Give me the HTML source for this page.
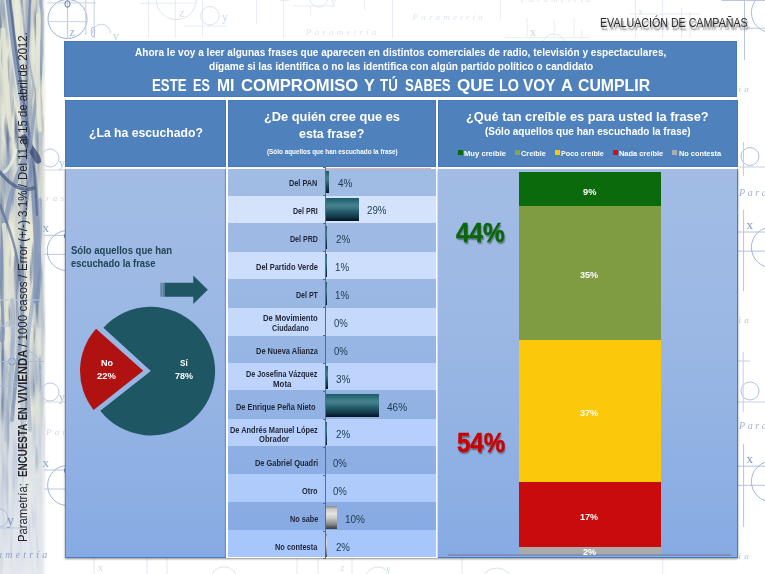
<!DOCTYPE html>
<html lang="es">
<head>
<meta charset="utf-8">
<title>Evaluación de campañas</title>
<style>
html,body{margin:0;padding:0;background:#fff;}
body{font-family:"Liberation Sans",sans-serif;}
#slide{position:relative;width:765px;height:574px;overflow:hidden;background:#fff;}
#slide *{box-sizing:border-box;}
.abs,.t,.vt,.box,.panel,.row,.bar,.seg,.mk{position:absolute;}
.t{white-space:nowrap;line-height:1;transform-origin:0 0;}
.vt{white-space:nowrap;line-height:1;transform-origin:0 0;color:#23242e;opacity:.999;}
.box{background:#4f81bd;border:1px solid #4578bb;}
.panel{border:0 solid #4a7cc3;border-right-width:1px;border-bottom-width:1px;background:linear-gradient(to bottom,#a2bce4 0%,#9ab7e4 45%,#86abe3 100%);box-shadow:0 1px 2px rgba(0,0,0,.45);}
.row{left:228px;width:207.8px;}
.bar{left:325.8px;background:linear-gradient(to bottom,#1f5963 0%,#286a76 12%,#47818e 32%,#3b7683 44%,#27606e 56%,#1c4d5c 68%,#12384a 82%,#081c2a 95%,#06141f 100%);}
.bar.g{background:linear-gradient(to bottom,#8a8a8a 0%,#c9c9c9 14%,#e4e4e4 34%,#cfcfcf 50%,#a9a9a9 66%,#858585 80%,#55565a 92%,#3a3b40 100%);}
.seg{left:519px;width:141.5px;}
.mk{width:5px;height:5px;top:150.4px;}

</style>
</head>
<body>
<div id="slide">
<!-- left painted strip -->
<svg class="abs" style="left:0;top:0" width="50" height="574" viewBox="0 0 50 574">
  <defs>
    <filter id="paint" x="0" y="0" width="100%" height="100%">
      <feTurbulence type="fractalNoise" baseFrequency="0.12 0.009" numOctaves="3" seed="7" result="n"/>
      <feColorMatrix in="n" type="matrix" values="0 0 0 0 0  0 0 0 0 0  0 0 0 0 0  2.6 0 0 0 -1.1"/>
      <feComposite in="SourceGraphic" operator="in"/>
    </filter>
    <filter id="paint2" x="0" y="0" width="100%" height="100%">
      <feTurbulence type="fractalNoise" baseFrequency="0.09 0.014" numOctaves="2" seed="23" result="n"/>
      <feColorMatrix in="n" type="matrix" values="0 0 0 0 0  0 0 0 0 0  0 0 0 0 0  0 3.4 0 0 -1.35"/>
      <feComposite in="SourceGraphic" operator="in"/>
    </filter>
    <filter id="paint3" x="0" y="0" width="100%" height="100%">
      <feTurbulence type="fractalNoise" baseFrequency="0.2 0.02" numOctaves="2" seed="41" result="n"/>
      <feColorMatrix in="n" type="matrix" values="0 0 0 0 0  0 0 0 0 0  0 0 0 0 0  0 0 3.2 0 -1.8"/>
      <feComposite in="SourceGraphic" operator="in"/>
    </filter>
    <filter id="soft" x="-20%" y="-5%" width="140%" height="110%"><feGaussianBlur stdDeviation="0.7"/></filter>
    <linearGradient id="sbase" x1="0" y1="0" x2="0" y2="1">
      <stop offset="0" stop-color="#d8dbcc"/><stop offset="0.45" stop-color="#d0d5cf"/>
      <stop offset="0.72" stop-color="#d0d8df"/><stop offset="1" stop-color="#dee4ea"/>
    </linearGradient>
    <linearGradient id="sfade" x1="0" y1="0" x2="1" y2="0">
      <stop offset="0" stop-color="#fff" stop-opacity="0"/><stop offset="0.9" stop-color="#fff" stop-opacity="0"/>
      <stop offset="0.96" stop-color="#fff" stop-opacity=".45"/><stop offset="1" stop-color="#fff" stop-opacity="1"/>
    </linearGradient>
    <linearGradient id="sbot" x1="0" y1="0" x2="0" y2="1">
      <stop offset="0" stop-color="#dfe5ec" stop-opacity="0"/><stop offset="0.4" stop-color="#dfe5ec" stop-opacity=".6"/><stop offset="1" stop-color="#e6eaf0" stop-opacity=".88"/>
    </linearGradient>
  </defs>
  <rect width="46" height="574" fill="url(#sbase)"/>
  <rect width="46" height="574" fill="#8497b6" filter="url(#paint)"/>
  <rect width="46" height="574" fill="#e9ead9" filter="url(#paint2)"/>
  <rect width="46" height="574" fill="#5b6d92" filter="url(#paint3)"/>
  <g fill="none" stroke-linecap="round" filter="url(#soft)">
    <!-- main trunk -->
    <path d="M8 0C12 40 18 80 24 115S34 170 36 215S38 270 36 300" stroke="#7d90b3" stroke-width="7" opacity=".8"/>
    <path d="M10 0C14 40 20 80 26 115S35 170 37 215" stroke="#55688f" stroke-width="2.2" opacity=".8"/>
    <path d="M5 0C9 40 15 80 21 115" stroke="#eef0e6" stroke-width="1.6" opacity=".8"/>
    <!-- junction blob -->
    <path d="M24 138C28 146 34 152 38 160" stroke="#3f5078" stroke-width="7" opacity=".8"/>
    <!-- upper right branches -->
    <path d="M30 148C34 110 40 80 42 40S40 10 41 0" stroke="#8b9dbd" stroke-width="3.5" opacity=".8"/>
    <path d="M27 120C26 80 28 40 30 0" stroke="#6b7fa6" stroke-width="2.5" opacity=".75"/>
    <path d="M36 95C30 70 24 40 22 0" stroke="#9aaac6" stroke-width="2" opacity=".7"/>
    <!-- left branches going down -->
    <path d="M28 150C18 175 8 195 4 235S6 300 2 340" stroke="#8496b8" stroke-width="5" opacity=".75"/>
    <path d="M32 160C26 200 20 240 22 290S16 360 12 420" stroke="#7488ad" stroke-width="4" opacity=".7"/>
    <path d="M0 172C10 185 22 192 34 188" stroke="#4a5d86" stroke-width="3.5" opacity=".75"/>
    <path d="M0 205C8 225 18 250 20 280" stroke="#5b6e97" stroke-width="2.5" opacity=".7"/>
    <path d="M40 200C42 240 36 280 30 320S28 380 30 430" stroke="#8d9fbf" stroke-width="4" opacity=".6"/>
    <path d="M12 300C16 340 10 380 6 440" stroke="#95a6c4" stroke-width="4" opacity=".55"/>
    <!-- light beige gaps -->
    <path d="M3 30C5 70 6 100 12 135" stroke="#e4e6d3" stroke-width="5" opacity=".85"/>
    <path d="M38 15C39 60 36 95 40 130" stroke="#e6e8d6" stroke-width="4" opacity=".85"/>
    <path d="M4 225C8 265 4 300 8 340" stroke="#e2e5d2" stroke-width="4.5" opacity=".85"/>
    <path d="M28 225C30 250 28 270 27 290" stroke="#e8ead9" stroke-width="3.5" opacity=".8"/>
    <path d="M16 150C12 165 8 170 4 172" stroke="#eceee2" stroke-width="3" opacity=".8"/>
  </g>
  <rect y="400" width="46" height="174" fill="url(#sbot)"/>
  <rect width="46" height="574" fill="url(#sfade)"/>
</svg>
<!-- faint technical-drawing wallpaper -->
<svg class="abs" style="left:0;top:0" width="765" height="574" viewBox="0 0 765 574">
  <g fill="none" stroke="#dfe6f3" stroke-width="1">
    <!-- top-left group -->
    <circle cx="67.5" cy="19" r="19.5" stroke="#9cb0d3"/>
    <path d="M67.5 0V39" stroke="#c3cfe6" stroke-width="1.3"/>
    <path d="M47 2.9H96M47.8 21.6H88.4" stroke="#c9d4e9"/>
    <path d="M85.8 0V35M94.2 0V38" stroke="#c6d1e7"/>
    <ellipse cx="67.5" cy="4" rx="2.6" ry="3.2" stroke="#5f78a6"/>
    <ellipse cx="93" cy="32" rx="1.8" ry="5" stroke="#b4c3de"/>
    <path d="M92.4 33.2a9 9 0 0 1 18 0" stroke="#c9d4e9"/>
    <!-- second group (very faint) -->
    <circle cx="176.3" cy="-0.4" r="20" stroke="#dde4f1"/>
    <path d="M140 3.3H196M148.5 0V38M175.3 0V38M202.5 0V36M184.4 26.1H226.3" stroke="#e6ebf5"/>
    <circle cx="210" cy="15.7" r="9.2" stroke="#dbe3f0"/>
    <!-- top band, centre -->
    <path d="M256.5 0V24M283.5 0V38M280 0.5H289M293 5.9H335M310.6 5V16M364.7 0V10M392.5 0V38M500.6 0V20M527.2 18V38M554.2 20V38M574 18V38M581.8 30V38M505 37.6H590" stroke="#e9eef6"/>
    <circle cx="318.8" cy="-2" r="9" stroke="#e2e8f3"/>
    <circle cx="554" cy="46" r="12" stroke="#e2e8f3"/>
    <path d="M635.6 0V38M662.6 0V38M681.5 8V38M690 12V38M630 14H700" stroke="#e4e9f4"/>
    <!-- top-right -->
    <path d="M744.5 0V60M721.5 0.5H765M744 28.2H765" stroke="#b9c6e0"/>
    <circle cx="771.7" cy="12.5" r="20.3" stroke="#aebddb"/>
    <!-- right margin (pattern repeats every ~234px) -->
    <circle cx="750" cy="156.5" r="9" stroke="#b0c0dd"/>
    <path d="M743.5 142V176M738 167H765" stroke="#c3cfe6"/>
    <path d="M743.6 210V291M738 232H765M738 251.1H765" stroke="#b4c3de"/>
    <circle cx="771.7" cy="247.3" r="20.3" stroke="#a3b5d6"/>
    <circle cx="750" cy="391" r="9" stroke="#b0c0dd"/>
    <path d="M743.2 352V412M738 361H750M738 402H765" stroke="#c3cfe6"/>
    <path d="M743.6 444V527M738 466.2H765M738 485.3H765" stroke="#b4c3de"/>
    <circle cx="771.7" cy="481.5" r="20.3" stroke="#a3b5d6"/>
    <!-- gap between strip and panels -->
    <circle cx="50" cy="158" r="9" stroke="#bccae3"/>
    <path d="M44 170H66" stroke="#cfd9ea"/><path d="M44 235.4H66M44 254.3H66" stroke="#b9c7e2"/><ellipse cx="67.3" cy="236" rx="2.8" ry="3.2" stroke="#5f78a6"/>
    <circle cx="67.2" cy="250.7" r="20" stroke="#a3b5d6"/>
    <circle cx="50" cy="392" r="9" stroke="#bccae3"/>
    <path d="M44 402H66" stroke="#cfd9ea"/><path d="M44 470H66M44 489H66" stroke="#b9c7e2"/><ellipse cx="67.3" cy="470.5" rx="2.8" ry="3.2" stroke="#5f78a6"/>
    <circle cx="67.6" cy="485.5" r="20" stroke="#a3b5d6"/>
    <!-- over the painted strip -->
    <circle cx="-1" cy="518" r="9" stroke="#aebddb"/>
    <path d="M0 528H20M0 300H40M0 326H44" stroke="#b9c7e2"/>
    <circle cx="12" cy="361.5" r="3.5" stroke="#7e93bd"/>
    <circle cx="24" cy="368" r="17" stroke="#a9badb"/>
    <path d="M0 361.5H44M0 386H30" stroke="#a9badb"/>
    <path d="M12 330V400" stroke="#b4c3de"/>
    <!-- bottom band -->
    <path d="M94 558V574M147 558V574M167 558V574M297 558V574M318 558V574M352 558V574M462 558V574M662.7 558V574" stroke="#e3e9f4"/>
    <circle cx="224" cy="581" r="14" stroke="#dbe3f0"/>
    <circle cx="378" cy="580" r="13" stroke="#dbe3f0"/>
    <circle cx="497" cy="584" r="16" stroke="#dbe3f0"/>
  </g>
  <g font-family="Liberation Serif, serif" fill="#9fb1d3" font-size="12" opacity=".99">
    <text x="69.5" y="36" fill="#9db0d2">z</text><text x="113" y="40" fill="#c3cfe6">v</text>
    <text x="179" y="17" fill="#d3dced">z</text><text x="222" y="21" fill="#cfd9ea">y</text>
    <text x="331" y="5" fill="#dbe3f0" font-size="10">y</text>
    <text x="530" y="36" fill="#cbd5ea">x</text><text x="638" y="15" fill="#dbe3f0" font-size="10">x</text>
    <text x="746.5" y="228.5" fill="#7e93bd" font-size="13">x</text><text x="746.5" y="463" fill="#7e93bd" font-size="13">x</text>
    <text x="59" y="167" fill="#aebfdd">y</text><text x="59" y="401" fill="#aebfdd">y</text><text x="42.5" y="232" fill="#8ea2c8" font-size="13">x</text><text x="42.5" y="466.5" fill="#8ea2c8" font-size="13">x</text>
    <text x="98" y="571" fill="#c9d3e8" font-size="10">x</text>
    <text x="7" y="525" fill="#7e93bd" font-size="14">y</text>
    <text x="340" y="571" fill="#d3dced" font-size="10">z</text><text x="386" y="572" fill="#d3dced" font-size="10">y</text>
  </g>
  <g font-family="Liberation Serif, serif" font-style="italic" fill="#c5d0e6" font-size="9" letter-spacing="3.2" opacity=".99">
    <text x="306" y="34.5" fill="#dde4f1">Parametría</text>
    <text x="412.5" y="20" fill="#dde4f1">Parametría</text>
    <text x="520.5" y="2" fill="#dde4f1">Parametría</text>
    <text x="739" y="196" fill="#9fb1d3" font-size="10" letter-spacing="2.6">Para</text><text x="739" y="429" fill="#9fb1d3" font-size="10" letter-spacing="2.6">Para</text>
    <text x="738.5" y="92" fill="#b4c3de">ia</text><text x="738.5" y="323" fill="#b4c3de">ia</text><text x="738.5" y="559" fill="#b4c3de">ia</text>
    <text x="46" y="201" fill="#cfd9ea">ras</text><text x="-3" y="558" fill="#8ea2c8" font-size="10">ametría</text><text x="-2" y="326" fill="#a3b5d6" font-size="9">ame</text><text x="46" y="435" fill="#cfd9ea">Par</text>
  </g>
</svg>

<div class="vtwrap">
<span class="vt" style="top:541.8px;left:27.1px;font-size:12.5px;transform:rotate(-90deg) translateY(-10.00px) scaleX(0.9003)">Parametría;</span>
<span class="vt" style="top:477.3px;left:27.1px;font-size:12.5px;font-weight:700;transform:rotate(-90deg) translateY(-10.00px) scaleX(0.7856)">ENCUESTA</span>
<span class="vt" style="top:420.1px;left:27.1px;font-size:12.5px;font-weight:700;transform:rotate(-90deg) translateY(-10.00px) scaleX(0.7252)">EN</span>
<span class="vt" style="top:402.8px;left:27.1px;font-size:12.5px;font-weight:700;transform:rotate(-90deg) translateY(-10.00px) scaleX(0.9027)">VIVIENDA</span>
<span class="vt" style="top:346.8px;left:27.1px;font-size:12.5px;transform:rotate(-90deg) translateY(-10.00px) scaleX(0.9264)">/ 1000 casos /</span>
<span class="vt" style="top:270.6px;left:27.1px;font-size:12.5px;transform:rotate(-90deg) translateY(-10.00px) scaleX(0.9323)">Error (+/-) 3.1% /</span>
<span class="vt" style="top:180.0px;left:27.1px;font-size:12.5px;transform:rotate(-90deg) translateY(-10.00px) scaleX(0.9102)">Del 11 al 15 de abril de 2012.</span>
</div>
<!-- title + column headers -->
<div class="box" style="left:64px;top:40.5px;width:673px;height:56px"></div>
<div class="box" style="left:65px;top:100px;width:161px;height:66.9px"></div>
<div class="box" style="left:228.2px;top:100px;width:207.5px;height:66.9px"></div>
<div class="box" style="left:438px;top:100px;width:300px;height:66.9px"></div>
<!-- legend markers -->
<i class="mk" style="left:457.9px;background:#0a6a0c"></i>
<i class="mk" style="left:515.2px;background:#84a54b"></i>
<i class="mk" style="left:554.5px;background:#fcc90a"></i>
<i class="mk" style="left:612.5px;background:#d01212"></i>
<i class="mk" style="left:672.4px;background:#adadad"></i>
<!-- left panel: heard it? -->
<div class="panel" style="left:65px;top:169.4px;width:161px;height:388.6px;border-left:1px solid #5a89cb;border-right-color:#86a8df"></div>
<svg class="abs" style="left:65px;top:169px" width="161" height="389" viewBox="65 169 161 389">
  <path d="M160.4 282.7h1.5v14h-1.5zM162.4 282.7h1.6v14h-1.6z" fill="#5b7f95"/>
  <path d="M164.4 282.7H193.3V275.6L207.8 289.7L193.3 304V296.7H164.4Z" fill="#1f5663"/>
  <path d="M150.8 371.1L103.39 327.66A64.3 64.3 0 1 1 100.27 410.86Z" fill="#1f5664"/>
  <path d="M143.2 370.8L96.01 328.76A63.2 63.2 0 0 0 93.53 409.88Z" fill="#b01212"/>
</svg>
<!-- middle panel: whose phrase? -->
<div class="abs" style="left:226.3px;top:168px;width:211.4px;height:390px;background:#fff;box-shadow:0 1px 2px rgba(0,0,0,.45)"></div>
<div class="abs" style="left:228px;top:169px;width:207.6px;height:387.6px;background:linear-gradient(to bottom,#a1bce4 0%,#98b6e4 45%,#85a9e3 100%)"></div>
<div class="row" style="top:196px;height:27.1px;background:rgb(213, 226, 252)"></div>
<div class="row" style="top:251.5px;height:27.5px;background:rgb(205, 221, 252)"></div>
<div class="row" style="top:307.5px;height:28.2px;background:rgb(197, 217, 252)"></div>
<div class="row" style="top:363.3px;height:27.2px;background:rgb(190, 212, 252)"></div>
<div class="row" style="top:419px;height:27.2px;background:rgb(182, 207, 252)"></div>
<div class="row" style="top:474px;height:28.0px;background:rgb(174, 203, 252)"></div>
<div class="row" style="top:530.2px;height:26.4px;background:rgb(166, 198, 252)"></div>
<div class="abs" style="left:325.6px;top:167.5px;width:105px;height:1.5px;background:#f0b0aa"></div>
<div class="abs" style="left:324.8px;top:167.3px;width:1.4px;height:392px;background:#4a6f9f"></div>
<div class="abs" style="left:323.2px;top:167.0px;width:2px;height:1px;background:#4a6f9f"></div>
<div class="abs" style="left:323.2px;top:195.0px;width:2px;height:1px;background:#4a6f9f"></div>
<div class="abs" style="left:323.2px;top:222.9px;width:2px;height:1px;background:#4a6f9f"></div>
<div class="abs" style="left:323.2px;top:250.9px;width:2px;height:1px;background:#4a6f9f"></div>
<div class="abs" style="left:323.2px;top:278.8px;width:2px;height:1px;background:#4a6f9f"></div>
<div class="abs" style="left:323.2px;top:306.8px;width:2px;height:1px;background:#4a6f9f"></div>
<div class="abs" style="left:323.2px;top:334.8px;width:2px;height:1px;background:#4a6f9f"></div>
<div class="abs" style="left:323.2px;top:362.7px;width:2px;height:1px;background:#4a6f9f"></div>
<div class="abs" style="left:323.2px;top:390.7px;width:2px;height:1px;background:#4a6f9f"></div>
<div class="abs" style="left:323.2px;top:418.6px;width:2px;height:1px;background:#4a6f9f"></div>
<div class="abs" style="left:323.2px;top:446.6px;width:2px;height:1px;background:#4a6f9f"></div>
<div class="abs" style="left:323.2px;top:474.6px;width:2px;height:1px;background:#4a6f9f"></div>
<div class="abs" style="left:323.2px;top:502.5px;width:2px;height:1px;background:#4a6f9f"></div>
<div class="abs" style="left:323.2px;top:530.5px;width:2px;height:1px;background:#4a6f9f"></div>
<div class="abs" style="left:323.2px;top:558.4px;width:2px;height:1px;background:#4a6f9f"></div>
<div class="bar" style="top:170.5px;width:3.4px;height:22.8px"></div>
<div class="bar" style="top:198.4px;width:33.2px;height:22.8px"></div>
<div class="bar" style="top:226.4px;width:1.3px;height:22.8px"></div>
<div class="bar" style="top:254.4px;width:0.8px;height:22.8px"></div>
<div class="bar" style="top:282.3px;width:0.8px;height:22.8px"></div>
<div class="bar" style="top:366.2px;width:2.5px;height:22.8px"></div>
<div class="bar" style="top:394.2px;width:52.9px;height:22.8px"></div>
<div class="bar" style="top:422.1px;width:1.3px;height:22.8px"></div>
<div class="bar g" style="top:506.0px;width:11.0px;height:22.8px"></div>
<div class="bar g" style="top:534.0px;width:1.5px;height:22.8px"></div>
<!-- right panel: how credible? -->
<div class="panel" style="left:438px;top:169.4px;width:300px;height:388.6px"></div>
<div class="seg" style="top:172.4px;height:34.0px;background:#0b6b0c"></div>
<div class="seg" style="top:206.4px;height:134.0px;background:#7f9c43"></div>
<div class="seg" style="top:340.4px;height:141.8px;background:#fcc90a"></div>
<div class="seg" style="top:482.2px;height:64.8px;background:#c90b0b"></div>
<div class="seg" style="top:547.0px;height:7.6px;background:#ababab"></div>
<div class="abs" style="left:447.5px;top:554.2px;width:283.5px;height:1.6px;background:#8091b4"></div>

<span class="t" style="left:600.3px;top:17.40px;font-size:12.65px;color:#2e2e2e;transform:scaleX(0.8433);text-shadow:1.5px 2.5px 2px rgba(40,40,40,.6);">EVALUACIÓN DE CAMPAÑAS</span>
<span class="t" style="left:135.4px;top:48.10px;font-size:10.47px;font-weight:700;color:#fff;transform:scaleX(0.9612);">Ahora le voy a leer algunas frases que aparecen en distintos comerciales de radio, televisión y espectaculares,</span>
<span class="t" style="left:208.8px;top:61.70px;font-size:10.47px;font-weight:700;color:#fff;transform:scaleX(0.9642);">dígame si las identifica o no las identifica con algún partido político o candidato</span>
<span class="t" style="left:151.6px;top:77.60px;font-size:15.84px;font-weight:700;color:#fff;transform:scaleX(0.8369);">ESTE</span>
<span class="t" style="left:193.2px;top:77.60px;font-size:15.84px;font-weight:700;color:#fff;transform:scaleX(0.7953);">ES</span>
<span class="t" style="left:216.5px;top:77.60px;font-size:15.84px;font-weight:700;color:#fff;transform:scaleX(0.9947);">MI</span>
<span class="t" style="left:240.9px;top:77.60px;font-size:15.84px;font-weight:700;color:#fff;transform:scaleX(1.0503);">COMPROMISO</span>
<span class="t" style="left:363.8px;top:77.60px;font-size:15.84px;font-weight:700;color:#fff;transform:scaleX(1.0225);">Y</span>
<span class="t" style="left:380.4px;top:77.60px;font-size:15.84px;font-weight:700;color:#fff;transform:scaleX(0.8432);">TÚ</span>
<span class="t" style="left:404.7px;top:77.60px;font-size:15.84px;font-weight:700;color:#fff;transform:scaleX(0.8378);">SABES</span>
<span class="t" style="left:457.3px;top:77.60px;font-size:15.84px;font-weight:700;color:#fff;transform:scaleX(1.0783);">QUE</span>
<span class="t" style="left:499.0px;top:77.60px;font-size:15.84px;font-weight:700;color:#fff;transform:scaleX(0.9097);">LO</span>
<span class="t" style="left:523.4px;top:77.60px;font-size:15.84px;font-weight:700;color:#fff;transform:scaleX(0.9720);">VOY</span>
<span class="t" style="left:561.0px;top:77.60px;font-size:15.84px;font-weight:700;color:#fff;transform:scaleX(1.0404);">A</span>
<span class="t" style="left:578.1px;top:77.60px;font-size:15.84px;font-weight:700;color:#fff;transform:scaleX(0.9999);">CUMPLIR</span>
<span class="t" style="left:89.3px;top:126.10px;font-size:13.52px;font-weight:700;color:#fff;transform:scaleX(0.9034);">¿La ha escuchado?</span>
<span class="t" style="left:264.0px;top:110.00px;font-size:13.08px;font-weight:700;color:#fff;transform:scaleX(0.9796);">¿De quién cree que es</span>
<span class="t" style="left:299.3px;top:127.00px;font-size:13.08px;font-weight:700;color:#fff;transform:scaleX(0.9453);">esta frase?</span>
<span class="t" style="left:266.6px;top:149.00px;font-size:6.54px;font-weight:700;color:#fff;transform:scaleX(0.9732);">(Sólo aquellos que han escuchado la frase)</span>
<span class="t" style="left:465.9px;top:111.10px;font-size:12.79px;font-weight:700;color:#fff;transform:scaleX(1.0019);">¿Qué tan creíble es para usted la frase?</span>
<span class="t" style="left:484.6px;top:127.00px;font-size:10.17px;font-weight:700;color:#fff;transform:scaleX(0.9845);">(Sólo aquellos que han escuchado la frase)</span>
<span class="t" style="left:464.2px;top:149.80px;font-size:7.85px;font-weight:700;color:#fff;transform:scaleX(0.9732);">Muy creíble</span>
<span class="t" style="left:521.2px;top:149.80px;font-size:7.85px;font-weight:700;color:#fff;transform:scaleX(0.9325);">Creíble</span>
<span class="t" style="left:561.2px;top:149.80px;font-size:7.85px;font-weight:700;color:#fff;transform:scaleX(0.9173);">Poco creíble</span>
<span class="t" style="left:619.3px;top:149.80px;font-size:7.85px;font-weight:700;color:#fff;transform:scaleX(0.9474);">Nada creíble</span>
<span class="t" style="left:679.2px;top:149.80px;font-size:7.85px;font-weight:700;color:#fff;transform:scaleX(0.9375);">No contesta</span>
<span class="t" style="left:71.1px;top:245.00px;font-size:10.61px;font-weight:700;color:#1f4556;transform:scaleX(0.8979);">Sólo aquellos que han</span>
<span class="t" style="left:71.1px;top:257.70px;font-size:10.61px;font-weight:700;color:#1f4556;transform:scaleX(0.8845);">escuchado la frase</span>
<span class="t" style="left:100.6px;top:357.70px;font-size:9.74px;font-weight:700;color:#fff;transform:scaleX(0.9242);">No</span>
<span class="t" style="left:96.9px;top:370.80px;font-size:9.74px;font-weight:700;color:#fff;transform:scaleX(0.9700);">22%</span>
<span class="t" style="left:180.3px;top:358.10px;font-size:9.74px;font-weight:700;color:#fff;transform:scaleX(0.8367);">Sí</span>
<span class="t" style="left:175.4px;top:371.20px;font-size:9.74px;font-weight:700;color:#fff;transform:scaleX(0.9238);">78%</span>
<span class="t" style="left:289.2px;top:180.08px;font-size:8.14px;font-weight:700;color:#22283a;transform:scaleX(0.8998);">Del PAN</span>
<span class="t" style="left:292.9px;top:208.04px;font-size:8.14px;font-weight:700;color:#22283a;transform:scaleX(0.8681);">Del PRI</span>
<span class="t" style="left:289.6px;top:236.00px;font-size:8.14px;font-weight:700;color:#22283a;transform:scaleX(0.8733);">Del PRD</span>
<span class="t" style="left:255.7px;top:263.96px;font-size:8.14px;font-weight:700;color:#22283a;transform:scaleX(0.9200);">Del Partido Verde</span>
<span class="t" style="left:295.7px;top:291.92px;font-size:8.14px;font-weight:700;color:#22283a;transform:scaleX(0.8657);">Del PT</span>
<span class="t" style="left:263.0px;top:315.18px;font-size:8.14px;font-weight:700;color:#22283a;transform:scaleX(0.9481);">De Movimiento</span>
<span class="t" style="left:271.7px;top:324.58px;font-size:8.14px;font-weight:700;color:#22283a;transform:scaleX(0.8789);">Ciudadano</span>
<span class="t" style="left:255.7px;top:347.84px;font-size:8.14px;font-weight:700;color:#22283a;transform:scaleX(0.9179);">De Nueva Alianza</span>
<span class="t" style="left:246.4px;top:371.10px;font-size:8.14px;font-weight:700;color:#22283a;transform:scaleX(0.8883);">De Josefina Vázquez</span>
<span class="t" style="left:272.7px;top:380.50px;font-size:8.14px;font-weight:700;color:#22283a;transform:scaleX(0.9700);">Mota</span>
<span class="t" style="left:236.4px;top:403.76px;font-size:8.14px;font-weight:700;color:#22283a;transform:scaleX(0.9135);">De Enrique Peña Nieto</span>
<span class="t" style="left:230.0px;top:427.02px;font-size:8.14px;font-weight:700;color:#22283a;transform:scaleX(0.9116);">De Andrés Manuel López</span>
<span class="t" style="left:258.7px;top:436.42px;font-size:8.14px;font-weight:700;color:#22283a;transform:scaleX(0.9357);">Obrador</span>
<span class="t" style="left:254.7px;top:459.68px;font-size:8.14px;font-weight:700;color:#22283a;transform:scaleX(0.9133);">De Gabriel Quadri</span>
<span class="t" style="left:302.2px;top:487.64px;font-size:8.14px;font-weight:700;color:#22283a;transform:scaleX(0.9093);">Otro</span>
<span class="t" style="left:289.5px;top:515.60px;font-size:8.14px;font-weight:700;color:#22283a;transform:scaleX(0.8953);">No sabe</span>
<span class="t" style="left:275.1px;top:543.56px;font-size:8.14px;font-weight:700;color:#22283a;transform:scaleX(0.9094);">No contesta</span>
<span class="t" style="left:337.8px;top:179.20px;font-size:10.03px;color:#193a4d;transform:scaleX(0.9942);">4%</span>
<span class="t" style="left:367.3px;top:206.40px;font-size:10.03px;color:#193a4d;transform:scaleX(0.9727);">29%</span>
<span class="t" style="left:335.8px;top:235.00px;font-size:10.03px;color:#193a4d;transform:scaleX(0.9804);">2%</span>
<span class="t" style="left:334.6px;top:262.80px;font-size:10.03px;color:#193a4d;transform:scaleX(0.9666);">1%</span>
<span class="t" style="left:334.6px;top:291.30px;font-size:10.03px;color:#193a4d;transform:scaleX(0.9666);">1%</span>
<span class="t" style="left:333.5px;top:319.20px;font-size:10.03px;color:#193a4d;transform:scaleX(0.9528);">0%</span>
<span class="t" style="left:333.5px;top:346.80px;font-size:10.03px;color:#193a4d;transform:scaleX(0.9528);">0%</span>
<span class="t" style="left:336.2px;top:375.30px;font-size:10.03px;color:#193a4d;transform:scaleX(0.9942);">3%</span>
<span class="t" style="left:386.8px;top:403.00px;font-size:10.03px;color:#193a4d;transform:scaleX(1.0027);">46%</span>
<span class="t" style="left:335.7px;top:430.40px;font-size:10.03px;color:#193a4d;transform:scaleX(0.9804);">2%</span>
<span class="t" style="left:333.3px;top:458.90px;font-size:10.03px;color:#193a4d;transform:scaleX(0.9597);">0%</span>
<span class="t" style="left:333.3px;top:486.90px;font-size:10.03px;color:#193a4d;transform:scaleX(0.9597);">0%</span>
<span class="t" style="left:345.1px;top:514.80px;font-size:10.03px;color:#193a4d;transform:scaleX(0.9927);">10%</span>
<span class="t" style="left:335.9px;top:543.20px;font-size:10.03px;color:#193a4d;transform:scaleX(0.9597);">2%</span>
<span class="t" style="left:456.0px;top:218.60px;font-size:27.18px;font-weight:700;color:#0a660c;transform:scaleX(0.8972);-webkit-text-stroke:.5px #0a660c;text-shadow:1px 1.5px 1.5px rgba(40,60,40,.55);">44%</span>
<span class="t" style="left:456.7px;top:428.60px;font-size:27.18px;font-weight:700;color:#c60404;transform:scaleX(0.8843);-webkit-text-stroke:.5px #c60404;text-shadow:1px 1.5px 1.5px rgba(70,40,40,.55);">54%</span>
<span class="t" style="left:582.8px;top:186.60px;font-size:9.74px;font-weight:700;color:#fff;transform:scaleX(0.9518);">9%</span>
<span class="t" style="left:580.0px;top:270.40px;font-size:9.74px;font-weight:700;color:#fff;transform:scaleX(0.9341);">35%</span>
<span class="t" style="left:580.0px;top:408.20px;font-size:9.74px;font-weight:700;color:#fff;transform:scaleX(0.9341);">37%</span>
<span class="t" style="left:580.1px;top:511.70px;font-size:9.74px;font-weight:700;color:#fff;transform:scaleX(0.9289);">17%</span>
<span class="t" style="left:583.4px;top:548.40px;font-size:9.16px;font-weight:700;color:#fff;transform:scaleX(0.9974);">2%</span>
</div>
</body>
</html>
